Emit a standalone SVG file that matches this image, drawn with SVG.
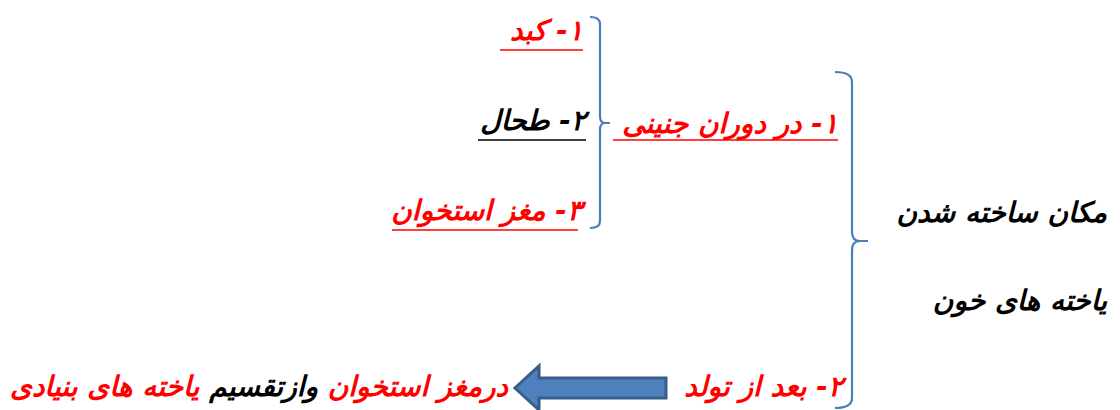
<svg xmlns="http://www.w3.org/2000/svg" width="1120" height="410" viewBox="0 0 1120 410">
<style>
.t{font-family:"DejaVu Sans",sans-serif;font-size:28px;font-weight:bold;font-style:italic;direction:rtl;text-anchor:start}
.r{fill:#ff0000}
.k{fill:#000000}
.ur{stroke:#ff0000;stroke-width:1.5}
.uk{stroke:#000000;stroke-width:1.5}
.brace{fill:none;stroke:#4a7ebb;stroke-width:2.2}
.arrow{fill:#4f81bd;stroke:#385d8a;stroke-width:3}
</style>
<rect width="1120" height="410" fill="#ffffff"/>
<g id="connectors">
<path class="brace" d="M835,72 Q852,72 852,82 L852,232 Q852,241 860,241 L868,241 M860,241 Q852,241 852,250 L852,398 Q852,408 835,408"/>
<path class="brace" d="M590,17 Q600,17 600,24 L600,116 Q600,123 605,123 L610,123 M605,123 Q600,123 600,130 L600,221 Q600,228 590,228"/>
<path id="arrow" class="arrow" d="M666,378 L539,378 L539,366 L515,388 L539,410 L539,398 L666,398 Z"/>
</g>
<g id="node-title">
<text class="t k" x="1107" y="222">مکان ساخته شدن</text>
<text class="t k" x="1107" y="310">یاخته های خون</text>
</g>
<g id="node-embryo">
<text class="t r" x="838" y="133">۱- در دوران جنینی</text>
<line class="ur" x1="613" y1="140" x2="838" y2="140"/>
</g>
<g id="node-after-birth">
<text class="t r" x="843" y="396">۲- بعد از تولد</text>
</g>
<g id="node-liver">
<text class="t r" x="583" y="40">۱- کبد</text>
<line class="ur" x1="500" y1="50" x2="583" y2="50"/>
</g>
<g id="node-spleen">
<text class="t k" x="586" y="130">۲- طحال</text>
<line class="uk" x1="478" y1="140" x2="586" y2="140"/>
</g>
<g id="node-marrow">
<text class="t r" x="582" y="220">۳- مغز استخوان</text>
<line class="ur" x1="392" y1="230" x2="578" y2="230"/>
</g>
<g id="node-stem">
<text class="t" x="508" y="396"><tspan class="r">درمغز استخوان</tspan> <tspan class="k">وازتقسیم</tspan> <tspan class="r">یاخته های بنیادی</tspan></text>
</g>
</svg>
